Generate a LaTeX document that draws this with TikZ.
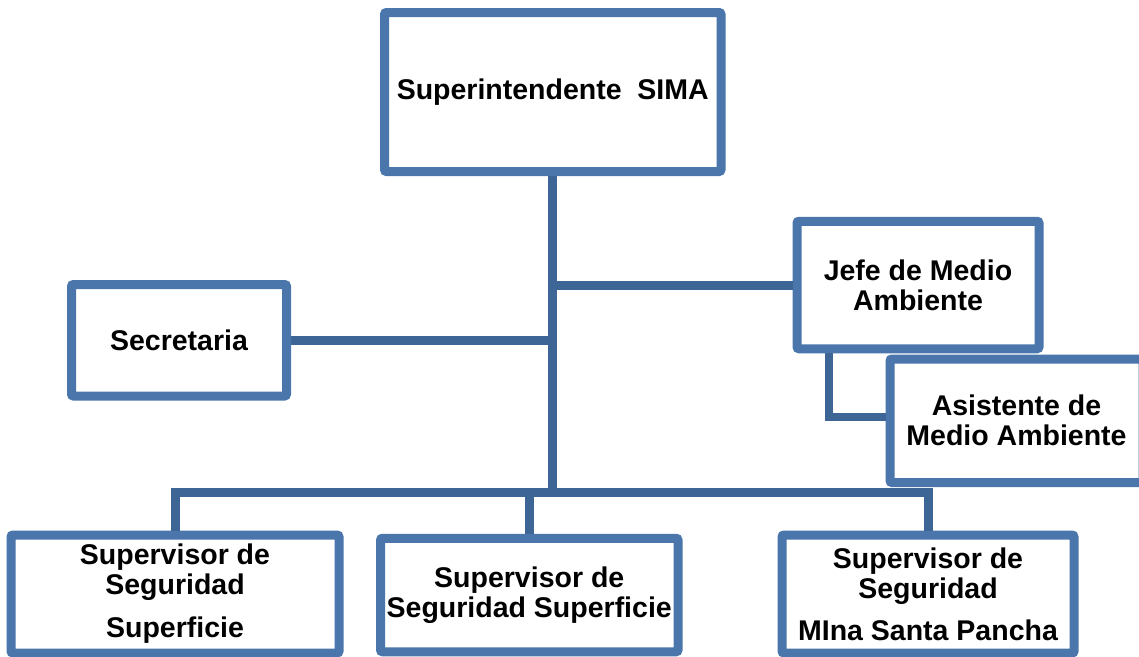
\documentclass[tikz,border=0pt]{standalone}
\usepackage{fontspec}
\setmainfont{Liberation Sans}
\definecolor{boxblue}{HTML}{4A76AC}
\definecolor{linkblue}{HTML}{3D6596}
\begin{document}
\begin{tikzpicture}[
    x=1pt, y=-1pt,
    every node/.style={font=\fontsize{28.5}{30}\selectfont\bfseries},
    box/.style={draw=boxblue, line width=9pt, rounded corners=2pt, fill=white,
                align=center, inner sep=0pt},
    link/.style={draw=linkblue, line width=9pt}
]
\useasboundingbox (0,0) rectangle (1139,656);

\node[box, minimum width=336.5pt, minimum height=159pt] (sup) at (552.75,92) {Superintendente\ \ SIMA};
\node[box, minimum width=242pt, minimum height=127.5pt] (jefe) at (918,285) {Jefe de Medio\\Ambiente};
\node[box, minimum width=215pt, minimum height=111.5pt] (sec) at (179,340.25) {Secretaria};
\node[box, minimum width=253pt, minimum height=123.5pt] (asis) at (1016.5,420.75) {Asistente de\\Medio Ambiente};

\node[box, minimum width=328pt, minimum height=118pt] (bl) at (175,594) {Supervisor de\\Seguridad\\[13pt]Superficie};
\node[box, minimum width=297.5pt, minimum height=113.5pt] (bm) at (529.25,595) {Supervisor de\\Seguridad Superficie};
\node[box, minimum width=292pt, minimum height=118pt] (br) at (928,594) {Supervisor de\\Seguridad\\[12pt]MIna Santa Pancha};

\coordinate (bus) at (552.75,492.5);

% tronco y ramas
\draw[link] (sup.south) -- (bus);
\draw[link] (sup.south |- jefe.west) -- (jefe.west);
\draw[link] (sec.east) -- (sec.east -| sup.south);
\draw[link] (bl.north) -- (bl.north |- bus) -- (br.north |- bus) -- (br.north);
\draw[link] (bm.north) -- (bm.north |- bus);
\draw[link, line width=8pt] ([xshift=-89pt]jefe.south) |- ([yshift=4pt]asis.west);
\end{tikzpicture}
\end{document}
